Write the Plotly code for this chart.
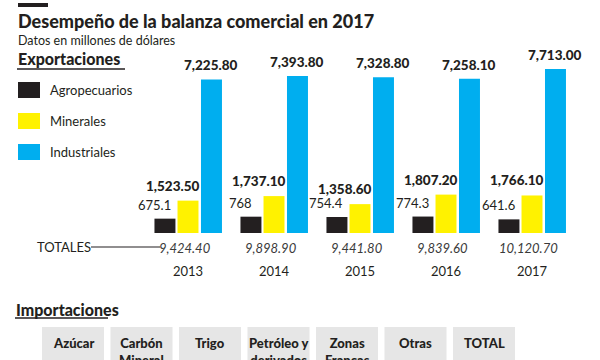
import plotly.graph_objects as go

# ---- data ----
years = ["2013", "2014", "2015", "2016", "2017"]
agropecuarios = [675.1, 768, 754.4, 774.3, 641.6]
minerales = [1523.50, 1737.10, 1358.60, 1807.20, 1766.10]
industriales = [7225.80, 7393.80, 7328.80, 7258.10, 7713.00]
totales = [9424.40, 9898.90, 9441.80, 9839.60, 10120.70]
agro_labels = ["675.1", "768", "754.4", "774.3", "641.6"]
series_names = ["Agropecuarios", "Minerales", "Industriales"]
import_cols = ["Azúcar", "Carbón<br>Mineral", "Trigo", "Petróleo y<br>derivados",
               "Zonas<br>Francas", "Otras", "TOTAL"]

W, H = 600, 360
colors = ["#231f20", "#fff200", "#00aeef"]
txt = "#231f20"
FONT = "Lato"

def px(x):
    return x / W

def py(y):
    return 1 - y / H

xs = list(range(len(years)))
bw = 0.244
offsets = [-0.39, -0.122, 0.151]

fig = go.Figure()
for vals, name, col, off in zip([agropecuarios, minerales, industriales], series_names, colors, offsets):
    fig.add_trace(go.Bar(x=xs, y=vals, name=name, marker=dict(color=col, line=dict(width=0)),
                         width=bw, offset=off, showlegend=False, hoverinfo="x+y"))

ann = []
# value labels
for i in xs:
    ann.append(dict(x=i - 0.395, y=agropecuarios[i], xref="x", yref="y", text=agro_labels[i],
                    showarrow=False, yanchor="bottom", yshift=4,
                    font=dict(family=FONT, size=13, color=txt)))
    ann.append(dict(x=i - 0.17, y=minerales[i], xref="x", yref="y", text=f"{minerales[i]:,.2f}",
                    showarrow=False, yanchor="bottom", yshift=5,
                    font=dict(family=FONT, size=13.5, color=txt, weight=900)))
    ann.append(dict(x=i + 0.27, y=industriales[i], xref="x", yref="y", text=f"{industriales[i]:,.2f}",
                    showarrow=False, yanchor="bottom", yshift=4,
                    font=dict(family=FONT, size=13.5, color=txt, weight=900)))
    ann.append(dict(x=i - 0.04, y=py(248), xref="x", yref="paper",
                    text="<i>%s</i>" % f"{totales[i]:,.2f}",
                    showarrow=False, yanchor="middle",
                    font=dict(family=FONT, size=13, color="#3a3a3a")))

# headings
ann += [
    dict(x=px(16), y=py(21), xref="paper", yref="paper", xanchor="left", yanchor="middle",
         text="Desempeño de la balanza comercial en 2017", showarrow=False,
         font=dict(family=FONT, size=18, color=txt, weight=900)),
    dict(x=px(16), y=py(40), xref="paper", yref="paper", xanchor="left", yanchor="middle",
         text="Datos en millones de dólares", showarrow=False,
         font=dict(family=FONT, size=12.5, color=txt)),
    dict(x=px(16), y=py(59), xref="paper", yref="paper", xanchor="left", yanchor="middle",
         text="Exportaciones", showarrow=False,
         font=dict(family=FONT, size=16, color=txt, weight=900)),
    dict(x=px(14), y=py(309), xref="paper", yref="paper", xanchor="left", yanchor="middle",
         text="Importaciones", showarrow=False,
         font=dict(family=FONT, size=16, color=txt, weight=900)),
    dict(x=px(35), y=py(247), xref="paper", yref="paper", xanchor="left", yanchor="middle",
         text="TOTALES", showarrow=False,
         font=dict(family=FONT, size=13, color=txt)),
]

shapes = [
    dict(type="rect", xref="paper", yref="paper", x0=px(18), x1=px(48), y0=py(3), y1=py(7),
         fillcolor=txt, line=dict(width=0)),
    dict(type="line", xref="paper", yref="paper", x0=px(17), x1=px(125), y0=py(69), y1=py(69),
         line=dict(color=txt, width=1.5)),
    dict(type="line", xref="paper", yref="paper", x0=px(15), x1=px(108), y0=py(318), y1=py(318),
         line=dict(color=txt, width=1.5)),
    dict(type="line", xref="paper", yref="paper", x0=px(91), x1=px(160), y0=py(247), y1=py(247),
         line=dict(color=txt, width=1.2)),
]

# legend (drawn)
for k, (name, col) in enumerate(zip(series_names, colors)):
    y0 = 82 + 31 * k
    shapes.append(dict(type="rect", xref="paper", yref="paper", x0=px(18), x1=px(40),
                       y0=py(y0), y1=py(y0 + 16), fillcolor=col, line=dict(width=0)))
    ann.append(dict(x=px(48), y=py(y0 + 8), xref="paper", yref="paper", xanchor="left", yanchor="middle",
                    text=name, showarrow=False, font=dict(family=FONT, size=13, color=txt)))

# import table header
for j, lab in enumerate(import_cols):
    x0 = 42 + 68.5 * j
    shapes.append(dict(type="rect", xref="paper", yref="paper", x0=px(x0), x1=px(x0 + 62),
                       y0=py(327), y1=py(370), fillcolor="#e6e6e6", line=dict(width=0)))
    ann.append(dict(x=px(x0 + 31), y=py(333), xref="paper", yref="paper", xanchor="center", yanchor="top",
                    text=lab, showarrow=False,
                    font=dict(family=FONT, size=13, color=txt, weight=900)))

fig.update_layout(
    width=W, height=H, margin=dict(l=0, r=0, t=0, b=0),
    paper_bgcolor="white", plot_bgcolor="white",
    barmode="overlay", annotations=ann, shapes=shapes, showlegend=False,
    xaxis=dict(domain=[px(145), px(575)], range=[-0.5, 4.5], tickvals=xs, ticktext=years,
               showgrid=False, zeroline=False, showline=False, ticks="outside", ticklen=26,
               tickcolor="rgba(0,0,0,0)", tickfont=dict(family=FONT, size=13, color=txt),
               fixedrange=True),
    yaxis=dict(domain=[py(233), py(63)], range=[0, 8000], visible=False, fixedrange=True),
)

fig.write_html("out.html", config={"displayModeBar": False},
               post_script="document.body.style.margin='0';document.body.style.overflow='hidden';")
